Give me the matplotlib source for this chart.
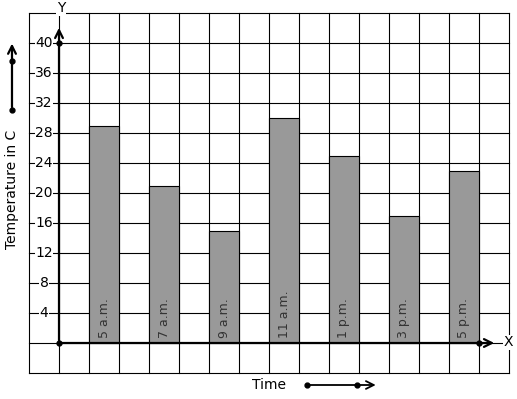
import matplotlib.pyplot as plt
import numpy as np

times = ['5 a.m.', '7 a.m.', '9 a.m.', '11 a.m.', '1 p.m.', '3 p.m.', '5 p.m.']
temps = [29, 21, 15, 30, 25, 17, 23]
yticks = [4, 8, 12, 16, 20, 24, 28, 32, 36, 40]

fig = plt.figure(figsize=(5.17, 3.99), dpi=100)
ax = fig.add_axes([0, 0, 1, 1])
# 30 px per column (1 unit), 30 px per row (4 units), origin at pixel (59, 343)
ax.set_xlim(-59 / 30, 458 / 30)
ax.set_ylim(-56 / 30 * 4, 343 / 30 * 4)
ax.axis('off')

# grid
for gx in range(-1, 16):
    ax.plot([gx, gx], [-4, 44], color='black', lw=0.8, zorder=1)
for gy in range(-4, 45, 4):
    ax.plot([-1, 15], [gy, gy], color='black', lw=0.8, zorder=1)

# bars
xpos = 1.5 + 2 * np.arange(len(temps))
ax.bar(xpos, temps, width=1, color='#999999', edgecolor='black', lw=0.8, zorder=2)
for x, t in zip(xpos, times):
    ax.text(x, 0.6, t, rotation=90, ha='center', va='bottom', fontsize=9,
            color='#333333', zorder=3)

# axes with arrows
ax.annotate('', xy=(0, 42.4), xytext=(0, 0),
            arrowprops=dict(arrowstyle='->', lw=1.6, color='black', mutation_scale=14), zorder=4)
ax.annotate('', xy=(14.6, 0), xytext=(0, 0),
            arrowprops=dict(arrowstyle='->', lw=1.6, color='black', mutation_scale=14), zorder=4)
ax.plot([0, 0, 14], [0, 40, 0], 'o', color='black', ms=3.5, zorder=5)
ax.text(0.07, 44.6, 'Y', ha='center', va='center', fontsize=10,
        bbox=dict(facecolor='white', edgecolor='none', pad=0.5), zorder=5)
ax.text(14.97, 0.1, 'X', ha='center', va='center', fontsize=10,
        bbox=dict(facecolor='white', edgecolor='none', pad=0.5), zorder=5)

for v in yticks:
    ax.text(-0.5, v, str(v), ha='center', va='center', fontsize=10,
            bbox=dict(facecolor='white', edgecolor='none', pad=0.3), zorder=5)

# axis titles
ax.text(-1.57, 20.5, 'Temperature in C', rotation=90, ha='center', va='center', fontsize=10)
ax.text(7.0, -5.6, 'Time', ha='center', va='center', fontsize=10)

# direction arrows
ax.annotate('', xy=(-1.567, 40.3), xytext=(-1.567, 31.07),
            arrowprops=dict(arrowstyle='->', lw=1.6, color='black', mutation_scale=14))
ax.plot([-1.567, -1.567], [37.6, 31.07], 'o', color='black', ms=3.5)
ax.annotate('', xy=(10.65, -5.6), xytext=(8.27, -5.6),
            arrowprops=dict(arrowstyle='->', lw=1.3, color='black', mutation_scale=14))
ax.plot([8.27, 9.93], [-5.6, -5.6], 'o', color='black', ms=3.5)

fig.savefig('out.png', dpi=100)
